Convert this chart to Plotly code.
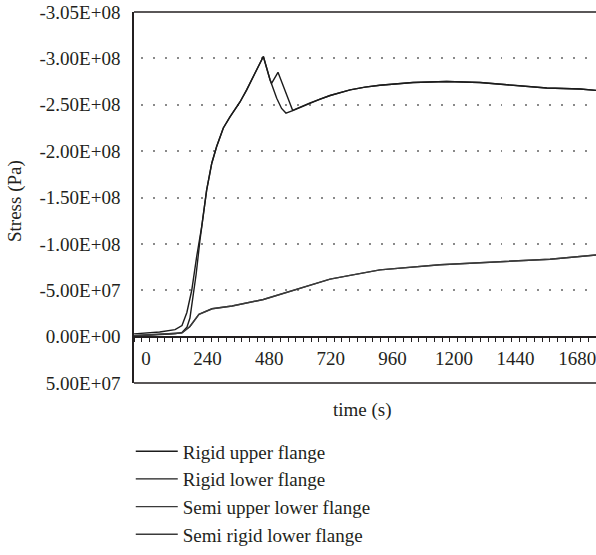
import plotly.graph_objects as go

# ---- data (time in s, stress in Pa) ----
t_rigid_upper = [0, 100, 160, 187, 206, 225, 244, 264, 283, 303, 322, 348, 374, 413, 439, 471, 504,
                 530, 556, 575, 592, 621, 686, 725, 764, 842, 900, 958, 1087, 1218, 1348, 1477, 1608, 1738, 1800]
s_rigid_upper = [-0.03e8, -0.05e8, -0.075e8, -0.12e8, -0.26e8, -0.50e8, -0.86e8, -1.19e8, -1.58e8, -1.87e8,
                 -2.05e8, -2.25e8, -2.37e8, -2.53e8, -2.66e8, -2.84e8, -3.02e8,
                 -2.77e8, -2.57e8, -2.46e8, -2.41e8, -2.44e8, -2.52e8, -2.56e8, -2.60e8, -2.66e8, -2.69e8,
                 -2.71e8, -2.74e8, -2.75e8, -2.74e8, -2.71e8, -2.68e8, -2.67e8, -2.655e8]

t_rigid_lower = [0, 100, 160, 187, 206, 218, 226, 242, 257, 264, 283, 303, 322, 348, 374, 413, 439, 471, 504,
                 530, 536, 561, 618, 686, 725, 764, 842, 900, 958, 1087, 1218, 1348, 1477, 1608, 1738, 1800]
s_rigid_lower = [-0.01e8, -0.02e8, -0.03e8, -0.045e8, -0.10e8, -0.20e8, -0.34e8, -0.67e8, -1.04e8, -1.19e8,
                 -1.58e8, -1.87e8, -2.05e8, -2.25e8, -2.37e8, -2.53e8, -2.66e8, -2.84e8, -3.02e8,
                 -2.77e8, -2.73e8, -2.85e8, -2.44e8, -2.52e8, -2.56e8, -2.60e8, -2.66e8, -2.69e8, -2.71e8,
                 -2.74e8, -2.75e8, -2.74e8, -2.71e8, -2.68e8, -2.67e8, -2.655e8]

t_semi_upper = [0, 160, 187, 218, 253, 304, 382, 504, 634, 764, 842, 958, 1192, 1426, 1621, 1800]
s_semi_upper = [-0.01e8, -0.03e8, -0.04e8, -0.11e8, -0.24e8, -0.30e8, -0.33e8, -0.40e8, -0.51e8,
                -0.62e8, -0.66e8, -0.72e8, -0.775e8, -0.81e8, -0.835e8, -0.88e8]

t_semi_lower = [0, 160, 187, 218, 253, 304, 382, 504, 634, 764, 842, 958, 1192, 1426, 1621, 1800]
s_semi_lower = [-0.01e8, -0.03e8, -0.04e8, -0.11e8, -0.24e8, -0.30e8, -0.33e8, -0.40e8, -0.51e8,
                -0.62e8, -0.66e8, -0.72e8, -0.775e8, -0.81e8, -0.835e8, -0.88e8]

series_names = ["Rigid upper flange", "Rigid lower flange",
                "Semi upper lower flange", "Semi rigid lower flange"]

y_tickvals = [5e7, 0, -5e7, -1e8, -1.5e8, -2e8, -2.5e8, -3e8, -3.5e8]
y_ticktext = ["5.00E+07", "0.00E+00", "-5.00E+07", "-1.00E+08", "-1.50E+08",
              "-2.00E+08", "-2.50E+08", "-3.00E+08", "-3.05E+08"]
x_tickvals = [0, 240, 480, 720, 960, 1200, 1440, 1680]

FONT = "Liberation Serif, Times New Roman, serif"
INK = "#231f20"

fig = go.Figure()
data = [(t_rigid_upper, s_rigid_upper, "#1c1c1c"),
        (t_rigid_lower, s_rigid_lower, "#1c1c1c"),
        (t_semi_upper, s_semi_upper, "#3a3a3a"),
        (t_semi_lower, s_semi_lower, "#3a3a3a")]
for name, (tx, sy, col) in zip(series_names, data):
    fig.add_trace(go.Scatter(x=tx, y=sy, mode="lines", name=name,
                             line=dict(color=col, width=1.4)))

fig.update_layout(
    width=596, height=555,
    margin=dict(l=134, r=0, t=12, b=172, autoexpand=False),
    paper_bgcolor="white", plot_bgcolor="white",
    font=dict(family=FONT, size=19, color=INK),
    showlegend=True,
    legend=dict(x=-0.007, y=-0.133, xanchor="left", yanchor="top",
                font=dict(family=FONT, size=19, color=INK),
                itemwidth=42, tracegroupgap=0, bgcolor="rgba(0,0,0,0)"),
    xaxis=dict(range=[0, 1800], anchor="free", position=0.125,
               tickvals=x_tickvals, showline=True, linecolor=INK, linewidth=1.5,
               ticks="outside", ticklen=5, tickcolor=INK, tickwidth=1.2,
               minor=dict(dtick=30, tick0=0, ticks="outside", ticklen=5,
                          tickcolor=INK, tickwidth=1.2, showgrid=False),
               ticklabelshift=12, ticklabelstandoff=0, ticklabeloverflow="allow",
               showgrid=False, zeroline=False,
               tickfont=dict(family=FONT, size=19, color=INK)),
    yaxis=dict(range=[5e7, -3.5e8], tickvals=y_tickvals, ticktext=y_ticktext,
               showline=True, linecolor=INK, linewidth=1.5,
               ticks="", ticklabelstandoff=8,
               showgrid=True, gridcolor="#8a8a8a", gridwidth=1.5,
               griddash="0px,7px,1.5px,3.5px",
               zeroline=False,
               tickfont=dict(family=FONT, size=19, color=INK)),
    shapes=[
        dict(type="line", xref="paper", yref="paper", x0=0, x1=1, y0=1, y1=1,
             line=dict(color=INK, width=1.5)),
        dict(type="line", xref="paper", yref="paper", x0=0, x1=1, y0=0, y1=0,
             line=dict(color=INK, width=1.5)),
    ],
    annotations=[
        dict(text="Stress (Pa)", xref="paper", yref="paper", x=-0.258, y=0.49,
             textangle=-90, showarrow=False, xanchor="center", yanchor="middle",
             font=dict(family=FONT, size=19, color=INK)),
        dict(text="time (s)", xref="paper", yref="paper", x=0.494, y=-0.073,
             showarrow=False, xanchor="center", yanchor="middle",
             font=dict(family=FONT, size=19, color=INK)),
    ],
)

fig.write_html("out.html")
